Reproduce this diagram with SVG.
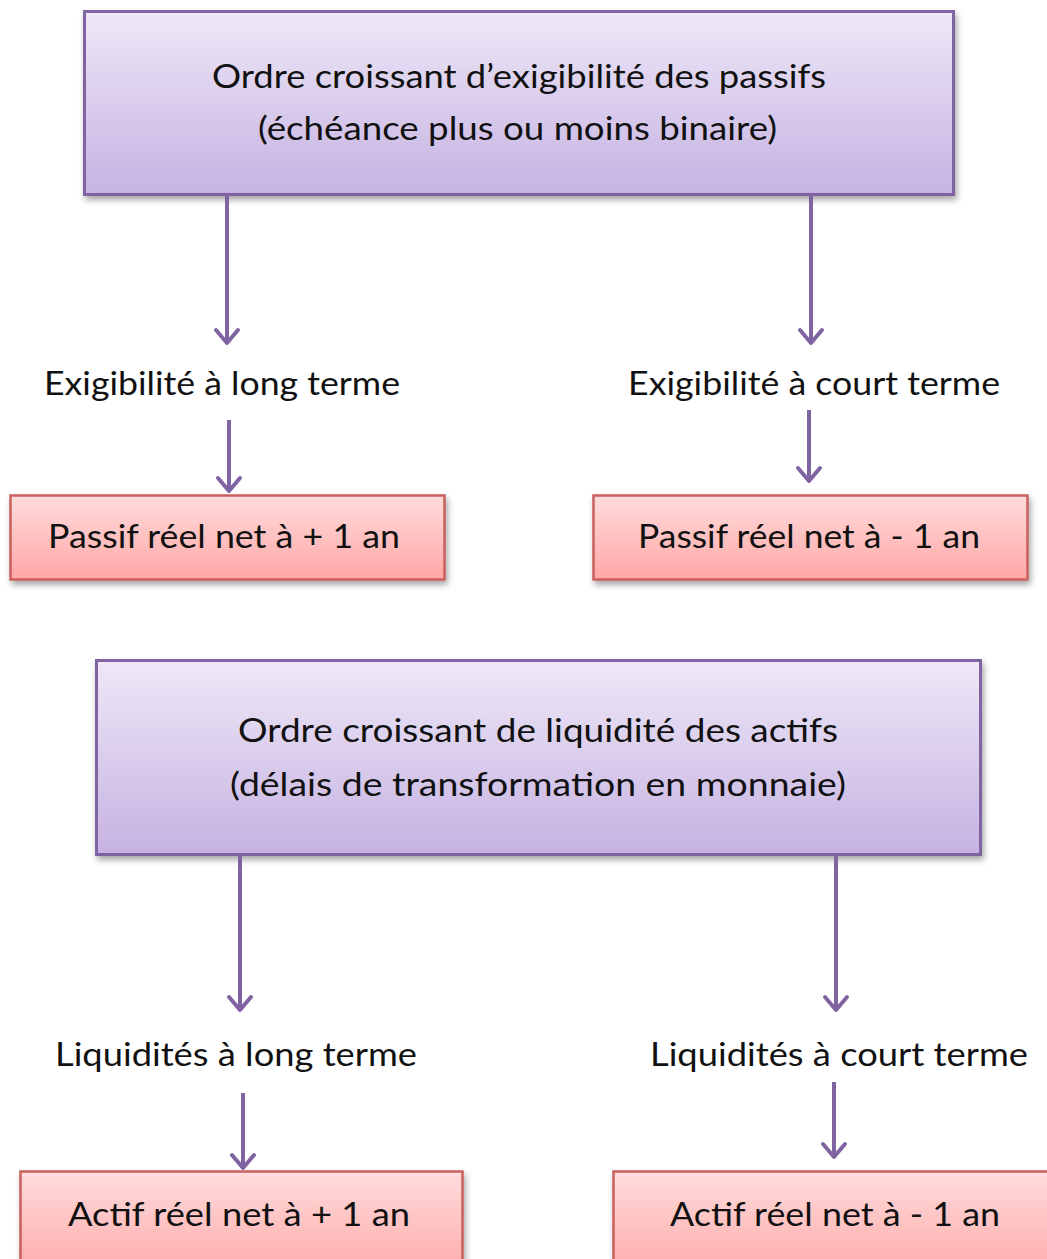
<svg xmlns="http://www.w3.org/2000/svg" width="1047" height="1259" viewBox="0 0 1047 1259">
<style>
  .purple { fill: url(#gPurple); stroke: #8064A2; stroke-width: 3; filter: url(#shadow); }
  .red { fill: url(#gRed); stroke: #C9605D; stroke-width: 2.5; filter: url(#shadow); }
  .t { font-family: Lato, "Liberation Sans", sans-serif; font-size: 33px; fill: #111; text-anchor: middle; }
  .conn line { stroke: #8064A2; stroke-width: 4; marker-end: url(#arrow); }
</style>
<defs>
  <linearGradient id="gPurple" x1="0" y1="0" x2="0" y2="1">
    <stop offset="0" stop-color="#EEE8F7"/>
    <stop offset="1" stop-color="#C6B2E2"/>
  </linearGradient>
  <linearGradient id="gRed" x1="0" y1="0" x2="0" y2="1">
    <stop offset="0" stop-color="#FFDCDC"/>
    <stop offset="1" stop-color="#FFA6A6"/>
  </linearGradient>
  <filter id="shadow" x="-5%" y="-10%" width="112%" height="130%">
    <feDropShadow dx="2" dy="4" stdDeviation="3" flood-color="#000" flood-opacity="0.35"/>
  </filter>
  <marker id="arrow" viewBox="-16 -13 20 26" refX="0" refY="0" markerWidth="20" markerHeight="26" markerUnits="userSpaceOnUse" orient="auto" overflow="visible">
    <path d="M-13,-11 L0,0 L-13,11" fill="none" stroke="#8064A2" stroke-width="4" stroke-linecap="round" stroke-linejoin="round"/>
  </marker>
</defs>
<rect width="1047" height="1259" fill="#fff"/>

<g id="passifs">
  <rect class="purple" x="84.5" y="11.5" width="869" height="183"/>
  <text class="t" x="519" y="88" textLength="614" lengthAdjust="spacingAndGlyphs">Ordre croissant d’exigibilité des passifs</text>
  <text class="t" x="517.5" y="140" textLength="519" lengthAdjust="spacingAndGlyphs">(échéance plus ou moins binaire)</text>
</g>
<g id="label-exig-long">
  <text class="t" x="222" y="395" textLength="356" lengthAdjust="spacingAndGlyphs">Exigibilité à long terme</text>
</g>
<g id="label-exig-court">
  <text class="t" x="814" y="395" textLength="372" lengthAdjust="spacingAndGlyphs">Exigibilité à court terme</text>
</g>
<g id="passif-plus">
  <rect class="red" x="10.5" y="495.5" width="434" height="84"/>
  <text class="t" x="224" y="548" textLength="352" lengthAdjust="spacingAndGlyphs">Passif réel net à + 1 an</text>
</g>
<g id="passif-moins">
  <rect class="red" x="593.5" y="495.5" width="434" height="84"/>
  <text class="t" x="809" y="548" textLength="342" lengthAdjust="spacingAndGlyphs">Passif réel net à - 1 an</text>
</g>

<g id="actifs">
  <rect class="purple" x="96.5" y="660.5" width="884" height="194"/>
  <text class="t" x="538" y="742" textLength="600" lengthAdjust="spacingAndGlyphs">Ordre croissant de liquidité des actifs</text>
  <text class="t" x="538" y="796" textLength="616" lengthAdjust="spacingAndGlyphs">(délais de transformation en monnaie)</text>
</g>
<g id="label-liq-long">
  <text class="t" x="236" y="1066" textLength="362" lengthAdjust="spacingAndGlyphs">Liquidités à long terme</text>
</g>
<g id="label-liq-court">
  <text class="t" x="839" y="1066" textLength="378" lengthAdjust="spacingAndGlyphs">Liquidités à court terme</text>
</g>
<g id="actif-plus">
  <rect class="red" x="20.5" y="1171.5" width="442" height="110"/>
  <text class="t" x="239" y="1226" textLength="342" lengthAdjust="spacingAndGlyphs">Actif réel net à + 1 an</text>
</g>
<g id="actif-moins">
  <rect class="red" x="613.5" y="1171.5" width="450" height="110"/>
  <text class="t" x="835" y="1226" textLength="330" lengthAdjust="spacingAndGlyphs">Actif réel net à - 1 an</text>
</g>

<g id="connectors" class="conn">
  <line x1="227" y1="196" x2="227" y2="343"/>
  <line x1="811" y1="196" x2="811" y2="343"/>
  <line x1="229" y1="420" x2="229" y2="491"/>
  <line x1="809" y1="410" x2="809" y2="481"/>
  <line x1="240" y1="856" x2="240" y2="1010"/>
  <line x1="836" y1="856" x2="836" y2="1010"/>
  <line x1="243" y1="1093" x2="243" y2="1168"/>
  <line x1="834" y1="1082" x2="834" y2="1157"/>
</g>
</svg>
